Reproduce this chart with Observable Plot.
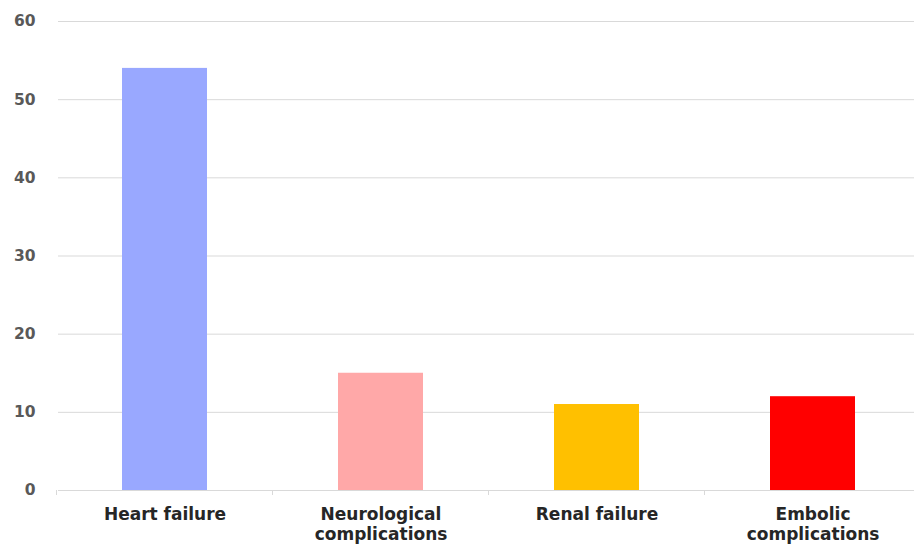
<!DOCTYPE html>
<html>
<head>
<meta charset="utf-8">
<script src="https://cdn.jsdelivr.net/npm/d3@7"></script>
<script src="https://cdn.jsdelivr.net/npm/@observablehq/plot@0.6"></script>
<style>
  html, body { margin: 0; padding: 0; background: #fff; overflow: hidden; }
</style>
</head>
<body>
<div id="chart"></div>
<script>
const categories = ["Heart failure", "Neurological complications", "Renal failure", "Embolic complications"];
const labels = ["Heart failure", "Neurological\ncomplications", "Renal failure", "Embolic\ncomplications"];
const values = [54, 15, 11, 12];
const colors = ["#99a8ff", "#ffa8a8", "#ffc000", "#ff0000"];
const yTicks = [0, 10, 20, 30, 40, 50, 60];

const data = categories.map((c, i) => ({cat: c, label: labels[i], value: values[i], color: colors[i]}));

const W = 914, H = 544;
const marginLeft = 58, marginTop = 21, marginBottom = 54;

function boundaryTicks(index, scales, values, dims) {
  const x = scales.x;
  const step = x.step();
  const bw = x.bandwidth();
  const y0 = scales.y(0);
  const g = d3.create("svg:g").attr("stroke", "#d9d9d9").attr("stroke-width", 1);
  const first = x(categories[0]) - (step - bw) / 2;
  const xs = [first].concat(categories.map(c => x(c) + bw + (step - bw) / 2));
  for (const xx of xs) {
    g.append("line").attr("x1", xx).attr("x2", xx).attr("y1", y0).attr("y2", y0 + 5);
  }
  return g.node();
}

const chart = Plot.plot({
  width: W,
  height: H,
  marginLeft,
  marginRight: 0,
  marginTop,
  marginBottom,
  style: {fontFamily: "'DejaVu Sans', sans-serif", background: "#fff", overflow: "hidden"},
  x: {domain: categories, range: [56, 920], paddingInner: 0.607, paddingOuter: 0.3035, axis: null},
  y: {domain: [0, 60], ticks: yTicks, axis: null},
  marks: [
    Plot.gridY(yTicks, {stroke: "#d9d9d9", strokeOpacity: 1}),
    Plot.axisY(yTicks, {tickSize: 0, tickPadding: 23, fontSize: 15.5, fontWeight: "bold", fill: "#595959", label: null}),
    Plot.barY(data, {x: "cat", y: "value", fill: "color"}),
    boundaryTicks,
    Plot.text(data, {x: "cat", text: "label", frameAnchor: "bottom", dy: 14.5, lineAnchor: "top", lineHeight: 1.22, fontSize: 17, fontWeight: "bold", fill: "#262626"})
  ]
});
document.getElementById("chart").appendChild(chart);
</script>
</body>
</html>
